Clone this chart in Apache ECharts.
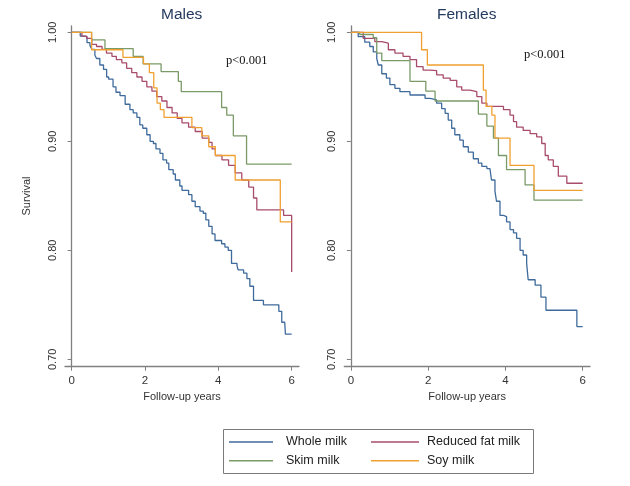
<!DOCTYPE html>
<html>
<head>
<meta charset="utf-8">
<script src="https://cdn.jsdelivr.net/npm/echarts@6/dist/echarts.min.js"></script>
<style>
  html, body { margin: 0; padding: 0; background: #fff; }
  #chart { width: 630px; height: 486px; }
</style>
</head>
<body>
<div id="chart"></div>
<script>
// Kaplan-Meier survival by milk type as [years, survival]
const groups = ['Whole milk', 'Reduced fat milk', 'Skim milk', 'Soy milk'];
const panels = ['Males', 'Females'];
const xTicks = [0, 2, 4, 6];
const yTicks = [0.70, 0.80, 0.90, 1.00];
const pValue = 'p<0.001';

const maleWhole = [[0,1],[0.235,0.9966],[0.32,0.996],[0.42,0.9905],[0.50,0.988],[0.55,0.9844],[0.635,0.979],[0.68,0.976],[0.77,0.970],[0.87,0.966],[0.955,0.959],[1.01,0.957],[1.13,0.950],[1.21,0.945],[1.32,0.942],[1.46,0.934],[1.59,0.929],[1.68,0.926],[1.78,0.922],[1.86,0.915],[1.94,0.912],[2.05,0.906],[2.14,0.900],[2.23,0.898],[2.30,0.893],[2.41,0.889],[2.49,0.883],[2.59,0.880],[2.65,0.874],[2.77,0.870],[2.83,0.8645],[2.95,0.859],[3.01,0.855],[3.19,0.851],[3.28,0.845],[3.37,0.840],[3.50,0.836],[3.59,0.834],[3.66,0.828],[3.74,0.822],[3.83,0.815],[3.91,0.809],[4.09,0.806],[4.18,0.803],[4.27,0.800],[4.36,0.788],[4.51,0.786],[4.54,0.782],[4.69,0.779],[4.78,0.774],[4.86,0.767],[4.96,0.754],[5.23,0.750],[5.65,0.744],[5.73,0.734],[5.81,0.733],[5.83,0.723],[6.0,0.723]];
const maleReduced = [[0,1],[0.28,0.9966],[0.41,0.9945],[0.55,0.989],[0.68,0.987],[0.83,0.9844],[0.95,0.981],[1.10,0.978],[1.22,0.975],[1.37,0.972],[1.50,0.967],[1.64,0.963],[1.78,0.959],[1.92,0.955],[2.05,0.950],[2.19,0.946],[2.32,0.941],[2.46,0.937],[2.60,0.931],[2.74,0.926],[2.88,0.921],[3.01,0.917],[3.19,0.913],[3.37,0.909],[3.56,0.903],[3.74,0.899],[3.83,0.893],[3.92,0.887],[4.10,0.883],[4.28,0.878],[4.46,0.871],[4.64,0.8645],[4.83,0.858],[4.96,0.848],[5.05,0.837],[5.78,0.832],[6.0,0.780]];
const maleSkim = [[0,1],[0.545,0.993],[0.91,0.985],[1.68,0.978],[1.95,0.971],[2.44,0.964],[2.91,0.955],[2.99,0.9455],[4.09,0.931],[4.23,0.924],[4.41,0.905],[4.77,0.879],[6.0,0.879]];
const maleSoy = [[0,1],[0.545,0.984],[1.40,0.977],[1.96,0.971],[2.12,0.963],[2.24,0.949],[2.33,0.935],[2.42,0.929],[2.52,0.922],[3.28,0.9125],[3.55,0.905],[3.74,0.895],[3.92,0.887],[4.46,0.8645],[5.69,0.826],[6.0,0.826]];

const femaleWhole = [[0,1],[0.19,0.996],[0.36,0.991],[0.49,0.987],[0.58,0.982],[0.67,0.976],[0.71,0.970],[0.80,0.962],[0.92,0.958],[1.01,0.952],[1.14,0.9486],[1.27,0.9455],[1.53,0.9425],[1.92,0.9394],[2.05,0.938],[2.22,0.935],[2.35,0.930],[2.44,0.9257],[2.52,0.9195],[2.61,0.912],[2.69,0.906],[2.82,0.901],[2.91,0.895],[3.04,0.890],[3.17,0.884],[3.30,0.880],[3.39,0.877],[3.52,0.875],[3.60,0.8737],[3.64,0.8645],[3.73,0.854],[3.77,0.845],[3.86,0.832],[3.95,0.831],[4.03,0.826],[4.12,0.819],[4.21,0.816],[4.29,0.811],[4.38,0.800],[4.46,0.7957],[4.55,0.788],[4.59,0.773],[4.77,0.768],[4.92,0.757],[5.05,0.745],[5.85,0.730],[6.0,0.730]];
const femaleReduced = [[0,1],[0.32,0.9945],[0.62,0.9914],[0.80,0.990],[0.97,0.984],[1.14,0.981],[1.35,0.978],[1.53,0.975],[1.70,0.9685],[1.87,0.9654],[2.05,0.9648],[2.22,0.961],[2.39,0.958],[2.57,0.956],[2.74,0.950],[2.87,0.947],[3.08,0.9455],[3.26,0.941],[3.39,0.935],[3.52,0.932],[3.95,0.929],[4.12,0.924],[4.21,0.918],[4.29,0.913],[4.46,0.910],[4.64,0.907],[4.81,0.904],[4.94,0.898],[5.03,0.887],[5.11,0.883],[5.24,0.877],[5.37,0.868],[5.59,0.8615],[6.0,0.8615]];
const femaleSkim = [[0,1],[0.23,0.998],[0.58,0.995],[0.67,0.981],[0.80,0.974],[1.53,0.955],[1.94,0.946],[2.18,0.937],[3.30,0.925],[3.52,0.914],[3.69,0.903],[3.82,0.887],[4.03,0.874],[4.51,0.860],[4.74,0.846],[6.0,0.846]];
const femaleSoy = [[0,1],[1.83,0.984],[1.98,0.970],[3.43,0.947],[3.50,0.932],[3.65,0.924],[3.73,0.903],[4.12,0.878],[4.74,0.855],[6.0,0.855]];

const colors = ['#3f6a9c', '#a84c6c', '#7a9a68', '#f0a030'];
const panelData = [
  [maleWhole, maleReduced, maleSkim, maleSoy],
  [femaleWhole, femaleReduced, femaleSkim, femaleSoy]
];

const font = 'Liberation Sans, Arial, sans-serif';
const axisGrey = '#808080';

const grids = [
  { left: 65, right: 331, top: 26, bottom: 119.3 },
  { left: 344.3, right: 40, top: 26, bottom: 119.3 }
];
const xRanges = [[-0.18, 6.2], [-0.17, 6.19]];

const xAxes = grids.map((g, i) => ({
  type: 'value', gridIndex: i, min: xRanges[i][0], max: xRanges[i][1],
  name: 'Follow-up years', nameLocation: 'middle', nameGap: 18,
  nameTextStyle: { fontFamily: font, fontSize: 11, color: '#333' },
  axisLine: { lineStyle: { color: axisGrey, width: 1.3 } },
  axisTick: { customValues: xTicks, length: 4, lineStyle: { color: axisGrey } },
  axisLabel: { customValues: xTicks, margin: 8, fontFamily: font, fontSize: 11.5, color: '#333' },
  splitLine: { show: false }
}));

const yAxes = grids.map((g, i) => ({
  type: 'value', gridIndex: i, min: 0.6932, max: 1.0058,
  axisLine: { show: true, lineStyle: { color: axisGrey, width: 1.3 } },
  axisTick: { show: true, customValues: yTicks, length: 4, lineStyle: { color: axisGrey } },
  axisLabel: { customValues: yTicks, rotate: 90, margin: 7, fontFamily: font, fontSize: 11, color: '#333',
    formatter: v => v.toFixed(2) },
  splitLine: { show: false }
}));

const series = [];
panelData.forEach((sets, p) => {
  sets.forEach((data, k) => {
    series.push({
      name: groups[k], type: 'line', step: 'end', xAxisIndex: p, yAxisIndex: p,
      data: data, symbol: 'none', animation: false,
      lineStyle: { color: colors[k], width: 1.3 }, itemStyle: { color: colors[k] }
    });
  });
});

// legend: thin line swatches, no symbol, two columns inside one box
const legendText = { fontFamily: font, fontSize: 12.5, color: '#222', lineHeight: 14 };
const legendBase = { orient: 'vertical', top: 435, padding: 0, icon: 'rect', itemHeight: 1.4, itemGap: 4.7 };
const chart = echarts.init(document.getElementById('chart'));
chart.setOption({
  backgroundColor: '#fff',
  grid: grids,
  xAxis: xAxes,
  yAxis: yAxes,
  series: series,
  legend: [
    Object.assign({ data: [groups[0], groups[2]], left: 229, itemWidth: 44,
      textStyle: Object.assign({ padding: [0, 0, 0, 8] }, legendText) }, legendBase),
    Object.assign({ data: [groups[1], groups[3]], left: 371, itemWidth: 48,
      textStyle: Object.assign({ padding: [0, 0, 0, 3] }, legendText) }, legendBase)
  ],
  graphic: [
    { type: 'rect', shape: { x: 223.5, y: 429.5, width: 310, height: 44 },
      style: { fill: 'none', stroke: '#7a7a7a', lineWidth: 1 }, silent: true },
    { type: 'text', x: 181.7, y: 15, style: { text: panels[0], font: '15.5px ' + font, fill: '#243a5e', align: 'center', verticalAlign: 'middle' } },
    { type: 'text', x: 466.7, y: 15, style: { text: panels[1], font: '15.5px ' + font, fill: '#243a5e', align: 'center', verticalAlign: 'middle' } },
    { type: 'text', x: 246.7, y: 60.5, style: { text: pValue, font: '12.5px Liberation Serif, Times New Roman, serif', fill: '#111', align: 'center', verticalAlign: 'middle' } },
    { type: 'text', x: 544.7, y: 55, style: { text: pValue, font: '12.5px Liberation Serif, Times New Roman, serif', fill: '#111', align: 'center', verticalAlign: 'middle' } },
    { type: 'text', x: 27, y: 196, rotation: Math.PI / 2, style: { text: 'Survival', font: '11px ' + font, fill: '#333', align: 'center', verticalAlign: 'middle' } }
  ]
});
</script>
</body>
</html>
